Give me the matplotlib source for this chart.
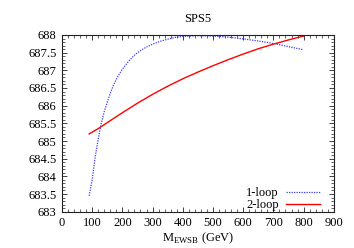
import matplotlib
matplotlib.use("Agg")
import matplotlib.pyplot as plt
from matplotlib.ticker import MultipleLocator, FuncFormatter

# data
x1 = [90, 100, 110, 120, 130, 140, 150, 160, 170, 180, 190, 200, 220, 240,
      260, 280, 300, 325, 350, 375, 400, 450, 500, 550, 600, 650, 700, 750, 800]
y1 = [683.45, 683.9, 684.55, 685.05, 685.5, 685.83, 686.1, 686.35, 686.57,
      686.75, 686.9, 687.03, 687.25, 687.43, 687.56, 687.66, 687.74, 687.82,
      687.88, 687.93, 687.96, 687.98, 687.97, 687.94, 687.89, 687.83, 687.76,
      687.67, 687.58]
x2 = [90, 120, 150, 200, 250, 300, 350, 400, 450, 500, 550, 600, 650, 700,
      750, 800]
y2 = [685.2, 685.35, 685.52, 685.8, 686.07, 686.32, 686.55, 686.76, 686.95,
      687.13, 687.3, 687.46, 687.61, 687.74, 687.86, 687.97]
labels = ["1-loop", "2-loop"]
title = "SPS5"
xlabel = r"M$_{\mathregular{EWSB}}$ (GeV)"

plt.rcParams['font.family'] = ['Liberation Serif', 'DejaVu Serif']
plt.rcParams['mathtext.fontset'] = 'custom'
plt.rcParams['mathtext.rm'] = 'Liberation Serif'

fig = plt.figure(figsize=(3.54, 2.48), dpi=100)
ax = fig.add_axes([0.175, 0.1464, 0.768, 0.7126])

ax.plot(x1, y1, color='#3a3aff', linestyle=(0, (1, 1)), linewidth=0.9, label=labels[0])
ax.plot(x2, y2, color='#ff0000', linestyle='-', linewidth=1.0, label=labels[1])

ax.set_xlim(0, 900)
ax.set_ylim(683, 688)
ax.xaxis.set_major_locator(MultipleLocator(100))
ax.xaxis.set_minor_locator(MultipleLocator(20))
ax.yaxis.set_major_locator(MultipleLocator(0.5))
ax.yaxis.set_minor_locator(MultipleLocator(0.1))
ax.yaxis.set_major_formatter(FuncFormatter(lambda v, p: f"{v:g}"))
ax.tick_params(which='both', direction='in', top=True, right=True, labelsize=9,
               colors='#222222', labelcolor='black')
ax.tick_params(which='major', length=3.5, width=0.6, pad=4)
ax.tick_params(which='minor', length=2, width=0.5)
for s in ax.spines.values():
    s.set_linewidth(0.8)
    s.set_color('#222222')

ax.set_title(title, fontsize=9, pad=9)
ax.set_xlabel(xlabel, fontsize=9, labelpad=1)

leg = ax.legend(loc='lower right', frameon=False, fontsize=9, markerfirst=False,
                handlelength=2.7, handletextpad=0.6, labelspacing=0.0,
                borderaxespad=0.0, bbox_to_anchor=(0.968, -0.025))

fig.savefig("out.png", dpi=100)
